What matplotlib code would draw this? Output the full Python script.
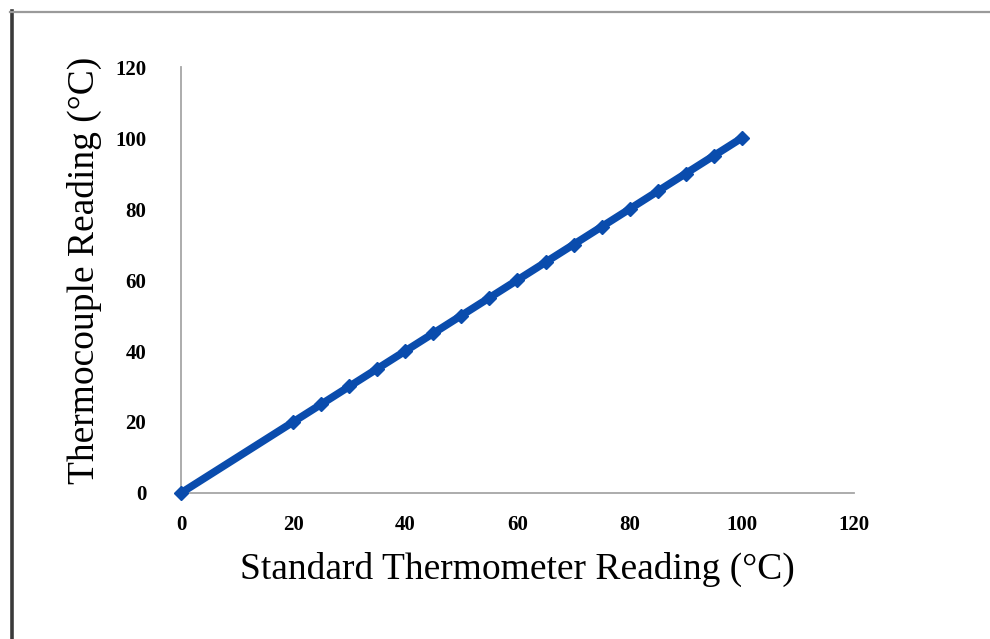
import matplotlib
matplotlib.use("Agg")
import matplotlib.pyplot as plt

# Data
standard = [0, 20, 25, 30, 35, 40, 45, 50, 55, 60, 65, 70, 75, 80, 85, 90, 95, 100]
thermocouple = [0, 20, 25, 30, 35, 40, 45, 50, 55, 60, 65, 70, 75, 80, 85, 90, 95, 100]
x_ticks = [0, 20, 40, 60, 80, 100, 120]
y_ticks = [0, 20, 40, 60, 80, 100, 120]
x_label = "Standard Thermometer Reading (°C)"
y_label = "Thermocouple Reading (°C)"

serif = ["Liberation Serif", "DejaVu Serif"]

fig = plt.figure(figsize=(9.9, 6.39), dpi=100)
fig.patch.set_facecolor("white")

# outer frame (left dark, top light)
fig.add_artist(plt.Line2D([0.0121, 0.0121], [0, 0.983], transform=fig.transFigure,
                          color="#3a3a3a", linewidth=2.6))
fig.add_artist(plt.Line2D([0.0105, 1.0], [0.982, 0.982], transform=fig.transFigure,
                          color="#9a9a9a", linewidth=1.6))

ax = fig.add_axes([0.1828, 0.2285, 0.8626 - 0.1828, 0.8951 - 0.2285])
ax.plot(standard, thermocouple, color="#0a4cad", linewidth=5.5,
        marker="D", markersize=7.5, markeredgecolor="#0a4cad", solid_capstyle="butt",
        zorder=3, clip_on=False)

ax.set_xlim(0, 120)
ax.set_ylim(0, 120)
ax.set_xticks(x_ticks)
ax.set_yticks(y_ticks)
ax.set_xticklabels([str(v) for v in x_ticks], fontfamily=serif, fontweight="bold", fontsize=15)
ax.set_yticklabels([str(v) for v in y_ticks], fontfamily=serif, fontweight="bold", fontsize=15)
ax.tick_params(axis="both", length=0)
ax.tick_params(axis="x", pad=16)
ax.tick_params(axis="y", pad=25)

for s in ["top", "right"]:
    ax.spines[s].set_visible(False)
for s in ["left", "bottom"]:
    ax.spines[s].set_color("#a6a6a6")
    ax.spines[s].set_linewidth(1.3)

ax.set_xlabel(x_label, fontfamily=serif, fontsize=27, labelpad=12)
ax.set_ylabel(y_label, fontfamily=serif, fontsize=27)
ax.yaxis.set_label_coords(-0.118, 0.523)

fig.savefig("out.png", dpi=100)
